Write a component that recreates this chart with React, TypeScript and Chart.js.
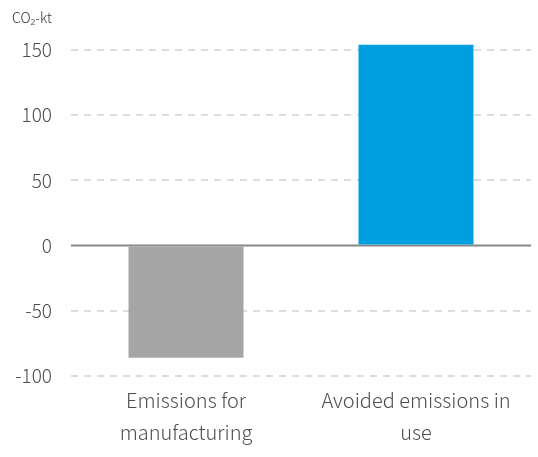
import React, { useEffect, useRef } from "react";
import { Chart, registerables } from "chart.js";

Chart.register(...registerables);

const categories: string[][] = [["Emissions for", "manufacturing"], ["Avoided emissions in", "use"]];
const values: number[] = [-86, 154];
const barColors: string[] = ["#a6a6a6", "#009fe0"];
const yTicks: number[] = [-100, -50, 0, 50, 100, 150];
const unitLabel = "CO\u2082-kt";

const FONT = "'Noto Sans CJK JP', 'Noto Sans', sans-serif";
const TEXT = "#4d4d4d";

export default function App() {
  const ref = useRef<HTMLCanvasElement | null>(null);
  useEffect(() => {
    if (!ref.current) return;
    const unitPlugin = {
      id: "unitLabel",
      afterDraw(chart: any) {
        const ctx = chart.ctx;
        ctx.save();
        ctx.font = `300 14px ${FONT}`;
        ctx.fillStyle = "#333333";
        ctx.textAlign = "left";
        ctx.textBaseline = "middle";
        ctx.fillText(unitLabel, 12, 18);
        ctx.restore();
      },
    };
    const zeroLine = {
      id: "zeroLine",
      beforeDatasetsDraw(chart: any) {
        const { ctx, chartArea, scales } = chart;
        const y = scales.y.getPixelForValue(0);
        ctx.save();
        ctx.strokeStyle = "#888888";
        ctx.lineWidth = 2;
        ctx.beginPath();
        ctx.moveTo(chartArea.left, y);
        ctx.lineTo(chartArea.right, y);
        ctx.stroke();
        ctx.restore();
      },
    };
    const chart = new Chart(ref.current, {
      type: "bar",
      data: {
        labels: categories,
        datasets: [
          {
            data: values,
            backgroundColor: barColors,
            borderWidth: 0,
            barPercentage: 0.5,
            categoryPercentage: 1,
          },
        ],
      },
      options: {
        animation: false,
        responsive: true,
        maintainAspectRatio: false,
        layout: { padding: { top: 37, right: 7, left: 0, bottom: 0 } },
        plugins: { legend: { display: false }, tooltip: { enabled: false } },
        scales: {
          x: {
            grid: { display: false, drawTicks: false },
            border: { display: false },
            ticks: {
              color: TEXT,
              font: { family: FONT, size: 20, weight: "300", lineHeight: 1.62 },
              padding: 8,
              maxRotation: 0,
              autoSkip: false,
            },
            afterFit: (scale: any) => {
              scale.height = 81;
            },
          },
          y: {
            min: -100,
            max: 160,
            afterBuildTicks: (scale: any) => {
              scale.ticks = yTicks.map((v) => ({ value: v }));
            },
            grid: {
              drawTicks: false,
              color: (ctx: any) => (ctx.tick && ctx.tick.value === 0 ? "rgba(0,0,0,0)" : "#dddddd"),
              lineWidth: 2,
            },
            border: { display: false, dash: [7, 6] },
            ticks: {
              color: TEXT,
              font: { family: FONT, size: 19, weight: "300" },
              padding: 19,
            },
            afterFit: (scale: any) => {
              scale.width = 71;
            },
          },
        },
      },
      plugins: [unitPlugin, zeroLine],
    });
    return () => chart.destroy();
  }, []);
  return (
    <div style={{ position: "absolute", left: 0, top: 0, width: 538, height: 457, background: "#fff" }}>
      <canvas ref={ref} />
    </div>
  );
}
